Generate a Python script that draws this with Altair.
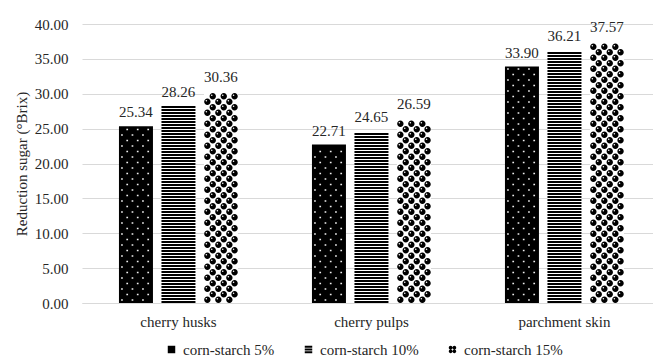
import altair as alt
import pandas as pd

# ---- data -------------------------------------------------------------
categories = ["cherry husks", "cherry pulps", "parchment skin"]
series = ["corn-starch 5%", "corn-starch 10%", "corn-starch 15%"]
starch_5 = [25.34, 22.71, 33.90]
starch_10 = [28.26, 24.65, 36.21]
starch_15 = [30.36, 26.59, 37.57]
y_ticks = [0, 5, 10, 15, 20, 25, 30, 35, 40]

rows = []
for name, vals in zip(series, [starch_5, starch_10, starch_15]):
    for cat, v in zip(categories, vals):
        rows.append({"category": cat, "series": name, "value": v})
df = pd.DataFrame(rows)

# ---- layout -----------------------------------------------------------
PLOT_W, PLOT_H = 571, 279
Y_MAX = 40
PX = Y_MAX / PLOT_H          # data units per screen pixel
FONT = "Liberation Serif"
TEXT = "#262626"
GRID = "#d9d9d9"

x_enc = alt.X(
    "category:N",
    sort=categories,
    scale=alt.Scale(domain=categories, paddingInner=0.3834, paddingOuter=0.171, align=0.56),
    axis=alt.Axis(title=None, labelAngle=0, ticks=False, domainColor=GRID,
                  labelPadding=11, labelFontSize=15),
)
xo_enc = alt.XOffset(
    "series:N", sort=series,
    scale=alt.Scale(domain=series, paddingInner=0.2, paddingOuter=0),
)
y_scale = alt.Scale(domain=[0, Y_MAX], nice=False)
y_axis = alt.Axis(title="Reduction sugar (°Brix)", values=y_ticks, format=".2f",
                  ticks=False, domain=False, gridColor=GRID, labelPadding=14,
                  titlePadding=5, labelFontSize=15, titleFontSize=15)


def y_enc(field):
    return alt.Y(field, scale=y_scale, axis=y_axis)


def circle(cx, cy, r, cw=True):
    s = 1 if cw else 0
    return (f"M{cx - r},{cy}A{r},{r} 0 1,{s} {cx + r},{cy}"
            f"A{r},{r} 0 1,{s} {cx - r},{cy}Z")


def square(cx, cy, d):
    return f"M{cx - d / 2},{cy - d / 2}h{d}v{d}h{-d}Z"


# one row of each fill pattern, drawn in pixel units (symbol size 4 -> scale 1)
dot_row_a = "".join(square(x, 0, 1.7) for x in (-14, -3.5, 7))
dot_row_b = "".join(square(x, 0, 1.7) for x in (-8.75, 1.75, 12.25))

BALL_R = 3.2


def ball(cx):
    return circle(cx, 0, BALL_R, True) + circle(cx - 1.0, -1.0, 0.8, False)


ball_row_a = "".join(ball(x) for x in (-13.6, -2.6, 8.4))
ball_row_b = "".join(ball(x) for x in (-8.2, 2.8, 13.6))

base = alt.Chart(df)

bars = base.mark_bar().encode(
    x=x_enc,
    xOffset=xo_enc,
    y=y_enc("value:Q"),
    color=alt.condition(alt.datum.series == series[0], alt.value("#000000"), alt.value("#ffffff")),
)

# horizontal stripes for the 10% bars
STRIPE_STEP, STRIPE_H = 3, 2
stripes = (
    base.transform_filter(alt.datum.series == series[1])
    .transform_calculate(s=f"sequence(0, datum.value - {STRIPE_H * PX - 0.001}, {STRIPE_STEP * PX})")
    .transform_flatten(["s"])
    .transform_calculate(s2=f"datum.s + {STRIPE_H * PX}")
    .mark_bar(color="#000000")
    .encode(x=x_enc, xOffset=xo_enc, y=y_enc("s:Q"), y2="s2:Q")
)


def pattern_rows(name, path, first_px, step_px, top_px, color):
    return (
        base.transform_filter(alt.datum.series == name)
        .transform_calculate(r=f"sequence({first_px * PX}, datum.value - {top_px * PX}, {step_px * PX})")
        .transform_flatten(["r"])
        .mark_point(shape=path, size=4, filled=True, color=color, opacity=1, strokeWidth=0)
        .encode(x=x_enc, xOffset=xo_enc, y=y_enc("r:Q"))
    )


dots_a = pattern_rows(series[0], dot_row_a, 3, 11, 2, "#eeeeee")
dots_b = pattern_rows(series[0], dot_row_b, 8.5, 11, 2, "#eeeeee")
balls_a = pattern_rows(series[2], ball_row_a, BALL_R, 11, BALL_R, "#000000")
balls_b = pattern_rows(series[2], ball_row_b, BALL_R + 5.5, 11, BALL_R, "#000000")

labels = base.mark_text(dy=-9, baseline="alphabetic", font=FONT, fontSize=15, color=TEXT).encode(
    x=x_enc, xOffset=xo_enc,
    y=y_enc("value:Q"),
    text=alt.Text("value:Q", format=".2f"),
)

# legend carrier: invisible points whose shape scale draws the legend swatches
legend_paths = [
    "M-1,-1H1V1H-1Z",
    "M-1,-1H1V-0.5H-1Z M-1,-0.25H1V0.25H-1Z M-1,0.5H1V1H-1Z",
    circle(-0.5, -0.5, 0.5) + circle(0.5, -0.5, 0.5) + circle(-0.5, 0.5, 0.5) + circle(0.5, 0.5, 0.5),
]
legend_pts = base.mark_point(filled=True, color="#000000", opacity=0, size=4).encode(
    x=x_enc, xOffset=xo_enc,
    y=y_enc("value:Q"),
    shape=alt.Shape(
        "series:N",
        scale=alt.Scale(domain=series, range=legend_paths),
        legend=alt.Legend(title=None, orient="none", direction="horizontal",
                          legendX=82, legendY=318, symbolSize=56, symbolOpacity=1,
                          symbolFillColor="#000000", symbolStrokeWidth=0,
                          labelFont=FONT, labelFontSize=15, labelColor=TEXT,
                          labelOffset=4, columnPadding=26, gridAlign="none"),
    ),
)

chart = (
    alt.layer(bars, legend_pts, stripes, dots_a, dots_b, balls_a, balls_b, labels)
    .properties(
        width=PLOT_W, height=PLOT_H,
        autosize=alt.AutoSizeParams(type="none"),
        padding={"left": 82, "top": 24, "right": 0, "bottom": 58},
        background="#ffffff",
    )
    .configure_view(stroke=None)
    .configure_axis(labelFont=FONT, titleFont=FONT, labelColor=TEXT, titleColor=TEXT,
                    titleFontWeight="normal")
)

chart.save("out.html", embed_options={"renderer": "svg", "actions": False})
